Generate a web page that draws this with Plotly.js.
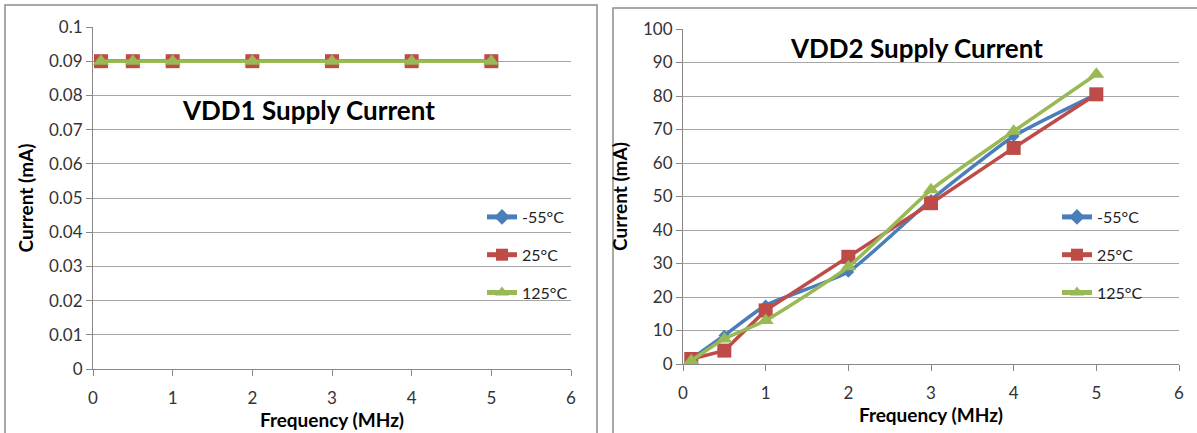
<!DOCTYPE html>
<html>
<head>
<meta charset="utf-8">
<script src="https://cdn.plot.ly/plotly-3.0.1.min.js"></script>
<style>html,body{margin:0;padding:0;background:#fff;}#chart{width:1197px;height:433px;}</style>
</head>
<body>
<div id="chart"></div>
<script>
// Data
const freq = [0.1, 0.5, 1, 2, 3, 4, 5];
const seriesNames = ['-55°C', '25°C', '125°C'];
// VDD1 supply current (mA)
const vdd1_m55 = [0.09, 0.09, 0.09, 0.09, 0.09, 0.09, 0.09];
const vdd1_25 = [0.09, 0.09, 0.09, 0.09, 0.09, 0.09, 0.09];
const vdd1_125 = [0.09, 0.09, 0.09, 0.09, 0.09, 0.09, 0.09];
// VDD2 supply current (mA)
const vdd2_m55 = [1.5, 8.5, 17.5, 27.5, 49, 68, 80.5];
const vdd2_25 = [1.5, 4, 16, 32, 48, 64.5, 80.5];
const vdd2_125 = [1, 7.5, 13, 29, 52, 69.5, 86.5];
const titles = ['VDD1 Supply Current', 'VDD2 Supply Current'];
const xTitle = 'Frequency (MHz)';
const yTitle = 'Current (mA)';

const colors = ['#4a7ebb', '#be4b48', '#98b954'];
const symbols = ['diamond', 'square', 'triangle-up'];
const sizes = [9, 14, 14];
const shapes_ = ['spline', 'linear', 'spline'];
const FONT = 'Lato, "Liberation Sans", Arial, sans-serif';

function mk(y, i, xa, ya, leg) {
  return {
    x: freq, y: y, type: 'scatter', mode: 'lines+markers',
    name: seriesNames[i], xaxis: xa, yaxis: ya, legend: leg,
    legendgroup: leg + i,
    line: {color: colors[i], width: 3.5, shape: shapes_[i], smoothing: 0.5},
    marker: {color: colors[i], symbol: symbols[i], size: sizes[i]}
  };
}
const data = [
  mk(vdd1_m55, 0, 'x', 'y', 'legend'),
  mk(vdd1_25, 1, 'x', 'y', 'legend'),
  mk(vdd1_125, 2, 'x', 'y', 'legend'),
  mk(vdd2_m55, 0, 'x2', 'y2', 'legend2'),
  mk(vdd2_25, 1, 'x2', 'y2', 'legend2'),
  mk(vdd2_125, 2, 'x2', 'y2', 'legend2')
];

const tickFont = {family: FONT, size: 17, color: '#333'};
const titleFont = {family: FONT, size: 19, color: '#000', weight: 'bold'};
function xax(dom) {
  return {domain: dom, range: [0, 6], tick0: 0, dtick: 1, showgrid: false, zeroline: false,
    showline: true, linecolor: '#888', linewidth: 1, ticks: 'outside', ticklen: 6, tickcolor: '#888',
    ticklabelstandoff: 8,
    tickfont: tickFont, title: {text: xTitle, font: titleFont, standoff: 0}, fixedrange: true};
}
function yax(dom, rng, dt, anchor) {
  return {domain: dom, range: rng, tick0: 0, dtick: dt, showgrid: true, gridcolor: '#a6a6a6', gridwidth: 1,
    zeroline: false, showline: true, linecolor: '#888', linewidth: 1, ticks: 'outside', ticklen: 6, tickcolor: '#888',
    tickfont: tickFont, title: {text: yTitle, font: titleFont, standoff: 10}, anchor: anchor, fixedrange: true};
}
const W = 1197, H = 433;
const legStyle = (x) => ({x: x, y: 1 - 200 / H, xanchor: 'left', yanchor: 'top', bgcolor: 'rgba(0,0,0,0)',
  font: {family: FONT, size: 16, color: '#222'}, tracegroupgap: 14, itemwidth: 30, itemsizing: 'constant'});

const layout = {
  width: W, height: H, margin: {l: 0, r: 0, t: 0, b: 0},
  paper_bgcolor: '#fff', plot_bgcolor: '#fff', showlegend: true,
  xaxis: Object.assign(xax([93 / W, 571 / W]), {anchor: 'y'}),
  yaxis: yax([1 - 369 / H, 1 - 27 / H], [0, 0.1], 0.01, 'x'),
  xaxis2: Object.assign(xax([683 / W, 1179 / W]), {anchor: 'y2'}),
  yaxis2: yax([1 - 364 / H, 1 - 29 / H], [0, 100], 10, 'x2'),
  legend: legStyle(482 / W),
  legend2: legStyle(1057 / W),
  annotations: [
    {text: titles[0], xref: 'paper', yref: 'paper', x: 308 / W, y: 1 - 110 / H, showarrow: false,
      xanchor: 'center', yanchor: 'middle',
      font: {family: FONT, size: 26, color: '#000', weight: 'bold'}},
    {text: titles[1], xref: 'paper', yref: 'paper', x: 916 / W, y: 1 - 48 / H, showarrow: false,
      xanchor: 'center', yanchor: 'middle',
      font: {family: FONT, size: 26, color: '#000', weight: 'bold'}}
  ],
  shapes: [
    {type: 'rect', xref: 'paper', yref: 'paper', x0: 5 / W, x1: 597 / W, y0: -0.1, y1: 1 - 5 / H,
      line: {color: '#8c8c8c', width: 1.5}},
    {type: 'rect', xref: 'paper', yref: 'paper', x0: 613 / W, x1: 1.1, y0: -0.1, y1: 1 - 8 / H,
      line: {color: '#8c8c8c', width: 1.5}}
  ]
};
Plotly.newPlot('chart', data, layout, {displayModeBar: false, staticPlot: true});
</script>
</body>
</html>
